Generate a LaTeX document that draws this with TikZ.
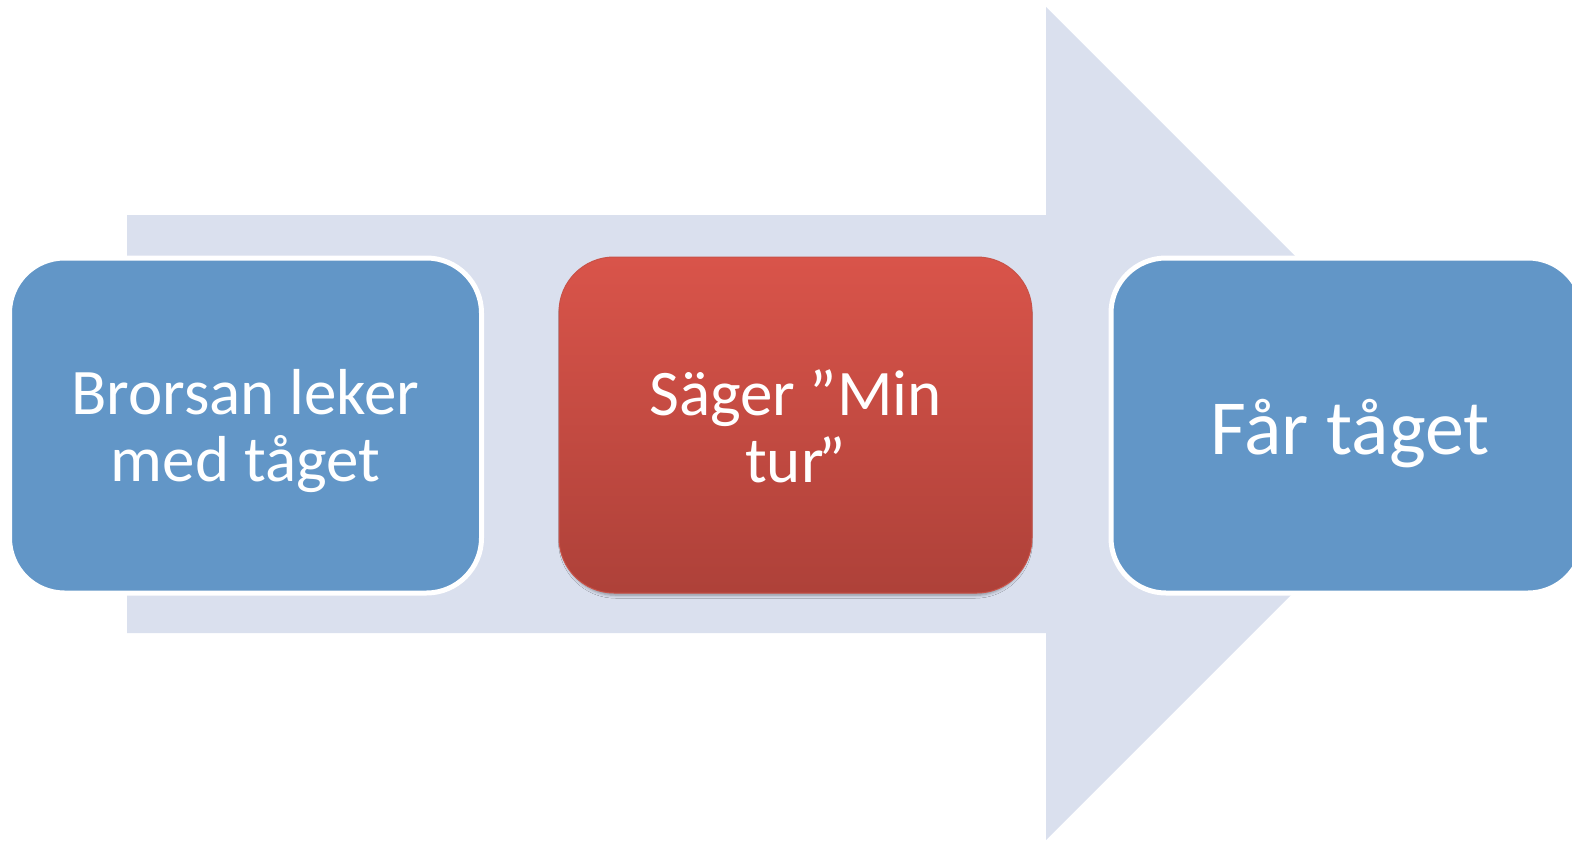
\documentclass[tikz,border=0pt]{standalone}
\usepackage{fontspec}
\setmainfont{Carlito}
\usetikzlibrary{shadows.blur}
\definecolor{arrowfill}{RGB}{218,224,238}
\definecolor{boxblue}{RGB}{98,150,199}
\definecolor{redtop}{RGB}{217,84,74}
\definecolor{redbot}{RGB}{174,65,57}
\definecolor{redline}{RGB}{200,82,72}
\begin{document}
\begin{tikzpicture}[x=1pt,y=-1pt,
  stepbox/.style={rounded corners=55pt, inner sep=0pt},
  bluebox/.style={stepbox, fill=boxblue, draw=white, line width=5pt},
  redbox/.style={stepbox, top color=redtop, bottom color=redbot, draw=redline, line width=1pt,
    blur shadow={shadow xshift=0pt, shadow yshift=-4pt, shadow blur radius=3pt,
      shadow opacity=35, shadow scale=0.99}},
  steptext/.style={inner sep=0pt, align=center, text=white,
    font=\fontsize{65}{67}\selectfont}]
\useasboundingbox (0,0) rectangle (1572,843);
\clip (0,0) rectangle (1572,843);
% big background arrow
\fill[arrowfill] (127,215) -- (1046,215) -- (1046,7) -- (1462.5,423.5)
  -- (1046,840) -- (1046,633) -- (127,633) -- cycle;
% steps
\node[bluebox, minimum width=472pt, minimum height=335pt] (s1) at (245.5,425.5) {};
\node[redbox, minimum width=473pt, minimum height=336pt] (s2) at (795.5,425) {};
\node[bluebox, minimum width=472pt, minimum height=335pt] (s3) at (1347,425.5) {};
% texts
\node[steptext] (t1) at ([yshift=-6pt]s1.center) {Brorsan leker\\med tåget};
\node[steptext] (t2) at ([yshift=-1pt]s2.center) {Säger ”Min\\tur\kern-0.08em”};
\node[steptext, font=\fontsize{78}{80}\selectfont] (t3) at ([xshift=3pt,yshift=-8pt]s3.center) {Får tåget};
\end{tikzpicture}
\end{document}
